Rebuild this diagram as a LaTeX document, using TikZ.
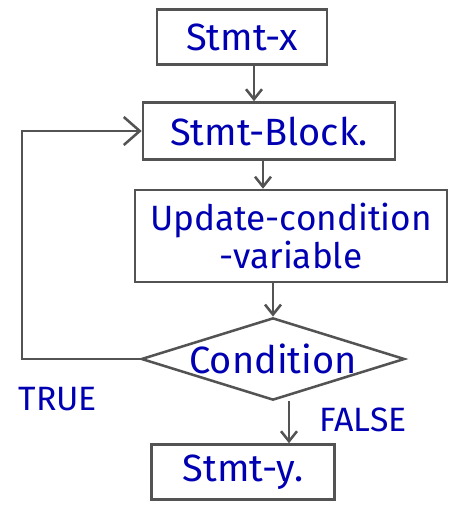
\documentclass[tikz,border=0pt]{standalone}
\usepackage{fontspec}
\setmainfont{Fira Sans}
\usetikzlibrary{shapes.geometric,arrows.meta,positioning}

\begin{document}
\begin{tikzpicture}[
  x=0.025cm, y=-0.025cm,
  font=\fontsize{27}{30}\selectfont,
  stmtbox/.style={rectangle, draw=gray!65!black, line width=1.8pt, text=blue!70!black, minimum width=4.25cm, minimum height=1.375cm, align=center},
  decision/.style={diamond, aspect=3.2, draw=gray!65!black, line width=1.8pt, text=blue!70!black, minimum width=6.5cm, minimum height=2.05cm, inner sep=0pt},
  arrow/.style={-{Straight Barb[length=2.5mm, width=4mm]}, line width=1.8pt, draw=gray!65!black},
  flag/.style={text=blue!70!black, font=\fontsize{24}{28}\selectfont},
]
\useasboundingbox (0,0) rectangle (451,521);

\node[stmtbox] (stmtx) at (242,37) {Stmt-x};
\node[stmtbox, minimum width=6.3cm, minimum height=1.425cm] (block) at (269,131) {Stmt-Block.};
\node[stmtbox, minimum width=7.8cm, minimum height=2.3cm, font=\fontsize{25}{29}\selectfont] (update) at (291,236) {Update-condition\\[-2pt]-variable};
\node[decision] (cond) at (273,359) {Condition};
\node[stmtbox, minimum width=4.575cm] (stmty) at (243,472) {Stmt-y.};

\coordinate (loop) at (22,0);

% straight-down flow
\draw[arrow] ([xshift=0.3cm]stmtx.south) -- ([xshift=0.3cm]stmtx.south |- block.north);
\draw[arrow] ([xshift=-0.15cm]block.south) -- ([xshift=-0.15cm]block.south |- update.north);
\draw[arrow] (cond.north |- update.south) -- (cond.north);
\draw[arrow] ([xshift=0.4cm]cond.south) -- ([xshift=0.4cm]cond.south |- stmty.north);

% loop back on true
\draw[arrow, -{Straight Barb[length=4mm, width=7mm]}] (cond.west) -- (cond.west -| loop) |- (block.west);

\node[flag] (true) at (58,399) {TRUE};
\node[flag] (false) at (363,420) {FALSE};

\end{tikzpicture}
\end{document}
